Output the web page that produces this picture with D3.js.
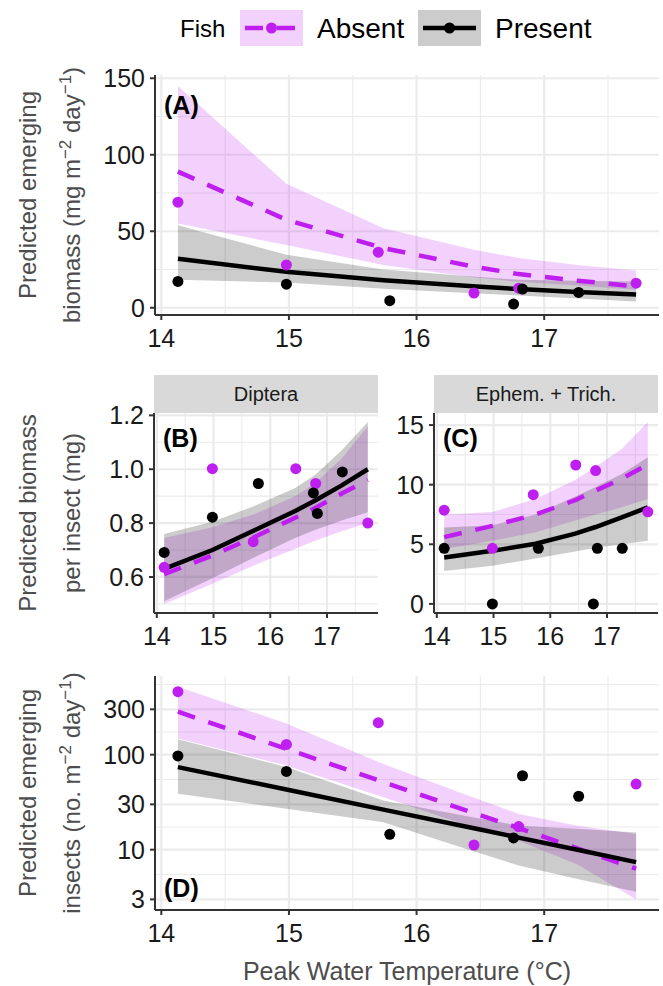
<!DOCTYPE html>
<html><head><meta charset="utf-8">
<script src="https://cdn.jsdelivr.net/npm/d3@7"></script>
<style>
body{margin:0;background:#fff}
svg{display:block}
text{font-family:"Liberation Sans",Arial,Helvetica,sans-serif}
</style>
</head><body>
<svg id="c" width="663" height="986"></svg>
<script>
// ---------------- DATA ----------------
const fishLevels = ["Absent", "Present"];
const legendTitle = "Fish";
const xTitle = "Peak Water Temperature (°C)";
const xTicks = [14, 15, 16, 17];

// observed site temperatures
const tempAbsent  = [14.13, 14.98, 15.70, 16.45, 16.80, 17.72];
const tempPresent = [14.13, 14.98, 15.79, 16.76, 16.83, 17.27];
// temperatures at which model predictions are shown
const predTemp = [14.13, 14.98, 15.74, 16.44, 16.80, 17.26, 17.72];

// (A) emerging biomass, mg m-2 day-1
const bioAbsent  = [69, 28, 36.3, 9.6, 12.8, 16.1];
const bioPresent = [17.2, 15.4, 4.6, 2.4, 12.2, 10];
const bioFitAbsent  = [89, 57.5, 39, 27, 22, 17.7, 14];
const bioLoAbsent   = [55, 41, 28, 20, 17, 14.5, 11.7];
const bioHiAbsent   = [145, 81, 52, 38, 32.5, 28, 24.4];
const bioFitPresent = [32, 23.5, 18, 14, 12.2, 10.3, 8.6];
const bioLoPresent  = [18.3, 16.5, 12.5, 9.5, 8, 6, 4.1];
const bioHiPresent  = [54, 34.6, 25, 20.5, 18.3, 17.7, 17.2];
const bioTicks = [0, 50, 100, 150];

// (B) Diptera biomass per insect, mg
const dipAbsent  = [0.636, 1.002, 0.731, 1.002, 0.947, 0.80];
const dipPresent = [0.691, 0.822, 0.947, 0.912, 0.836, 0.99];
const dipFitAbsent  = [0.61, 0.68, 0.75, 0.82, 0.857, 0.91, 0.96];
const dipLoAbsent   = [0.50, 0.575, 0.645, 0.705, 0.735, 0.77, 0.80];
const dipHiAbsent   = [0.745, 0.785, 0.835, 0.90, 0.95, 1.04, 1.16];
const dipFitPresent = [0.63, 0.70, 0.775, 0.845, 0.885, 0.94, 1.0];
const dipLoPresent  = [0.51, 0.595, 0.675, 0.745, 0.775, 0.81, 0.84];
const dipHiPresent  = [0.76, 0.805, 0.865, 0.93, 0.98, 1.07, 1.175];
const dipTicks = [0.6, 0.8, 1.0, 1.2];

// (C) Ephem. + Trich. biomass per insect, mg
const etAbsent  = [7.86, 4.66, 9.16, 11.65, 11.18, 7.72];
const etPresent = [4.66, 0, 4.66, 0, 4.66, 4.66];
const etFitAbsent  = [5.6, 6.55, 7.5, 8.7, 9.5, 10.5, 11.7];
const etLoAbsent   = [4.6, 5.3, 6.0, 7.0, 7.5, 8.1, 8.8];
const etHiAbsent   = [7.5, 7.7, 8.8, 10.4, 11.5, 13.0, 15.25];
const etFitPresent = [3.9, 4.45, 5.05, 5.9, 6.45, 7.25, 8.1];
const etLoPresent  = [2.75, 3.2, 3.8, 4.4, 4.7, 5.0, 5.3];
const etHiPresent  = [6.4, 6.6, 7.5, 9.0, 9.8, 10.9, 12.3];
const etTicks = [0, 5, 10, 15];

// (D) emerging insects, no. m-2 day-1 (log scale)
const insAbsent  = [460, 128, 217, 11.2, 17.5, 49];
const insPresent = [97, 66.7, 14.5, 13.3, 60, 36.5];
const insFitAbsent  = [283, 115, 51.5, 24.5, 16.9, 10.3, 6.3];
const insLoAbsent   = [148, 77, 35.7, 17.2, 12.4, 7.0, 3.0];
const insHiAbsent   = [520, 213, 80, 35.7, 23.8, 17.9, 14.6];
const insFitPresent = [74, 43, 26.4, 16.9, 13.4, 10, 7.4];
const insLoPresent  = [38.7, 27, 19.4, 9.7, 6.8, 4.9, 3.6];
const insHiPresent  = [145, 74, 33, 21.9, 17.9, 16.6, 15.2];
const insTicks = [3, 10, 30, 100, 300];

// ---------------- STYLE ----------------
const COL = {Absent: "#BE1EF0", Present: "#000000"};
const FILL = {Absent: "rgba(190,30,240,0.2)", Present: "rgba(0,0,0,0.2)"};
const GRID = "#EBEBEB";
const AXIS = "#333333";
const TICKTXT = "#1a1a1a";
const TITLETXT = "#4d4d4d";

const svg = d3.select("#c");

const allTemps = tempAbsent.concat(tempPresent, predTemp);
const tMin = d3.min(allTemps), tMax = d3.max(allTemps);
const tPad = (tMax - tMin) * 0.05;
const xDomain = [tMin - tPad, tMax + tPad];

function panel(cfg) {
  const g = svg.append("g");
  const x = d3.scaleLinear().domain(xDomain).range([cfg.left, cfg.right]);
  const vals = cfg.ptsA.concat(cfg.ptsP, cfg.loA, cfg.hiA, cfg.loP, cfg.hiP);
  let y;
  if (cfg.log) {
    const lmin = Math.log10(d3.min(vals)), lmax = Math.log10(d3.max(vals));
    const pad = (lmax - lmin) * 0.05;
    y = d3.scaleLog().domain([10 ** (lmin - pad), 10 ** (lmax + pad)]).range([cfg.bottom, cfg.top]);
  } else {
    const vmin = d3.min(vals), vmax = d3.max(vals);
    const pad = (vmax - vmin) * 0.05;
    y = d3.scaleLinear().domain([vmin - pad, vmax + pad]).range([cfg.bottom, cfg.top]);
  }
  const yd = y.domain();
  const inY = v => v >= Math.min(yd[0], yd[1]) && v <= Math.max(yd[0], yd[1]);

  const yt = cfg.ticks;
  let yMinor = [];
  const tr = cfg.log ? Math.log10 : (v => v);
  const inv = cfg.log ? (v => 10 ** v) : (v => v);
  const step = tr(yt[1]) - tr(yt[0]);
  const ext = [tr(yt[0]) - step].concat(yt.map(tr), [tr(yt[yt.length - 1]) + step]);
  for (let i = 0; i < ext.length - 1; i++) yMinor.push(inv((ext[i] + ext[i + 1]) / 2));
  yMinor = yMinor.filter(inY);
  const xMinor = [13.5, 14.5, 15.5, 16.5, 17.5].filter(v => v >= xDomain[0] && v <= xDomain[1]);

  g.selectAll(".ymin").data(yMinor).join("line")
    .attr("x1", cfg.left).attr("x2", cfg.right)
    .attr("y1", d => y(d)).attr("y2", d => y(d))
    .attr("stroke", GRID).attr("stroke-width", 1.1);
  g.selectAll(".xmin").data(xMinor).join("line")
    .attr("x1", d => x(d)).attr("x2", d => x(d))
    .attr("y1", cfg.top).attr("y2", cfg.bottom)
    .attr("stroke", GRID).attr("stroke-width", 1.1);
  g.selectAll(".ymaj").data(yt.filter(inY)).join("line")
    .attr("x1", cfg.left).attr("x2", cfg.right)
    .attr("y1", d => y(d)).attr("y2", d => y(d))
    .attr("stroke", GRID).attr("stroke-width", 2.2);
  g.selectAll(".xmaj").data(xTicks).join("line")
    .attr("x1", d => x(d)).attr("x2", d => x(d))
    .attr("y1", cfg.top).attr("y2", cfg.bottom)
    .attr("stroke", GRID).attr("stroke-width", 2.2);

  const series = {
    Absent: {fit: cfg.fitA, lo: cfg.loA, hi: cfg.hiA, pts: cfg.ptsA, t: tempAbsent},
    Present: {fit: cfg.fitP, lo: cfg.loP, hi: cfg.hiP, pts: cfg.ptsP, t: tempPresent}
  };
  const area = d3.area().x(d => x(d.t)).y0(d => y(d.lo)).y1(d => y(d.hi));
  const line = d3.line().x(d => x(d.t)).y(d => y(d.v));
  fishLevels.forEach(f => {
    const s = series[f];
    const rows = predTemp.map((t, i) => ({t, lo: s.lo[i], hi: s.hi[i]}));
    g.append("path").attr("d", area(rows)).attr("fill", FILL[f]);
  });
  fishLevels.forEach(f => {
    const s = series[f];
    const rows = predTemp.map((t, i) => ({t, v: s.fit[i]}));
    g.append("path").attr("d", line(rows)).attr("fill", "none")
      .attr("stroke", COL[f]).attr("stroke-width", 4.5)
      .attr("stroke-dasharray", f === "Absent" ? "18,14" : null);
  });
  fishLevels.forEach(f => {
    const s = series[f];
    g.selectAll(".pt" + f).data(s.pts.map((v, i) => ({t: s.t[i], v}))).join("circle")
      .attr("cx", d => x(d.t)).attr("cy", d => y(d.v)).attr("r", 5.5)
      .attr("fill", COL[f]);
  });

  g.append("line").attr("x1", cfg.left).attr("x2", cfg.right)
    .attr("y1", cfg.bottom).attr("y2", cfg.bottom).attr("stroke", AXIS).attr("stroke-width", 2);
  g.append("line").attr("x1", cfg.left).attr("x2", cfg.left)
    .attr("y1", cfg.top).attr("y2", cfg.bottom).attr("stroke", AXIS).attr("stroke-width", 2);
  g.selectAll(".xt").data(xTicks).join("line")
    .attr("x1", d => x(d)).attr("x2", d => x(d))
    .attr("y1", cfg.bottom).attr("y2", cfg.bottom + 5)
    .attr("stroke", AXIS).attr("stroke-width", 2);
  g.selectAll(".xl").data(xTicks).join("text")
    .attr("x", d => x(d)).attr("y", cfg.bottom + 32)
    .attr("text-anchor", "middle").attr("font-size", 25).attr("fill", TICKTXT)
    .text(d => d);
  g.selectAll(".yt").data(yt).join("line")
    .attr("x1", cfg.left - 5).attr("x2", cfg.left)
    .attr("y1", d => y(d)).attr("y2", d => y(d))
    .attr("stroke", AXIS).attr("stroke-width", 2);
  g.selectAll(".yl").data(yt).join("text")
    .attr("x", cfg.left - 10).attr("y", d => y(d) + 9)
    .attr("text-anchor", "end").attr("font-size", 25).attr("fill", TICKTXT)
    .text(cfg.fmt);

  g.append("text").attr("x", cfg.left + 9).attr("y", cfg.tagY)
    .attr("font-size", 25).attr("font-weight", "bold").attr("fill", "#000")
    .text(cfg.tag);

  if (cfg.strip) {
    g.append("rect").attr("x", cfg.left).attr("y", cfg.top - 38)
      .attr("width", cfg.right - cfg.left).attr("height", 38).attr("fill", "#D9D9D9");
    g.append("text").attr("x", (cfg.left + cfg.right) / 2).attr("y", cfg.top - 12)
      .attr("text-anchor", "middle").attr("font-size", 20).attr("fill", "#1a1a1a")
      .text(cfg.strip);
  }
  return {x, y};
}

panel({left: 155, right: 659, top: 75, bottom: 315, tag: "(A)", tagY: 114,
  ptsA: bioAbsent, ptsP: bioPresent, fitA: bioFitAbsent, loA: bioLoAbsent, hiA: bioHiAbsent,
  fitP: bioFitPresent, loP: bioLoPresent, hiP: bioHiPresent, ticks: bioTicks, fmt: d => d});
panel({left: 154, right: 378, top: 413, bottom: 613, tag: "(B)", tagY: 447, strip: "Diptera",
  ptsA: dipAbsent, ptsP: dipPresent, fitA: dipFitAbsent, loA: dipLoAbsent, hiA: dipHiAbsent,
  fitP: dipFitPresent, loP: dipLoPresent, hiP: dipHiPresent, ticks: dipTicks, fmt: d3.format(".1f")});
panel({left: 434, right: 658, top: 413, bottom: 613, tag: "(C)", tagY: 447, strip: "Ephem. + Trich.",
  ptsA: etAbsent, ptsP: etPresent, fitA: etFitAbsent, loA: etLoAbsent, hiA: etHiAbsent,
  fitP: etFitPresent, loP: etLoPresent, hiP: etHiPresent, ticks: etTicks, fmt: d => d});
panel({left: 155, right: 659, top: 676, bottom: 910, tag: "(D)", tagY: 897, log: true,
  ptsA: insAbsent, ptsP: insPresent, fitA: insFitAbsent, loA: insLoAbsent, hiA: insHiAbsent,
  fitP: insFitPresent, loP: insLoPresent, hiP: insHiPresent, ticks: insTicks, fmt: d => d});

svg.append("text").attr("x", 407).attr("y", 980).attr("text-anchor", "middle")
  .attr("font-size", 25).attr("fill", TITLETXT).text(xTitle);

function yTitle(cy, line1, line2parts) {
  const g = svg.append("g").attr("transform", `translate(0,${cy})`);
  g.append("text").attr("transform", "translate(36,0) rotate(-90)")
    .attr("text-anchor", "middle").attr("font-size", 24).attr("fill", TITLETXT).text(line1);
  const t = g.append("text").attr("transform", "translate(80,0) rotate(-90)")
    .attr("text-anchor", "middle").attr("font-size", 24).attr("fill", TITLETXT);
  line2parts.forEach(p => {
    const ts = t.append("tspan").text(p.s);
    if (p.sup) ts.attr("font-size", 17).attr("dy", -9);
    else if (p.after) ts.attr("dy", 9);
  });
}
yTitle(195, "Predicted emerging",
  [{s: "biomass (mg m"}, {s: "−2", sup: true}, {s: " day", after: true}, {s: "−1", sup: true}, {s: ")", after: true}]);
yTitle(513, "Predicted biomass", [{s: "per insect (mg)"}]);
yTitle(793, "Predicted emerging",
  [{s: "insects (no. m"}, {s: "−2", sup: true}, {s: " day", after: true}, {s: "−1", sup: true}, {s: ")", after: true}]);

const lg = svg.append("g");
lg.append("text").attr("x", 180).attr("y", 37).attr("font-size", 24).attr("fill", "#000").text(legendTitle);
const keyX = {Absent: 240, Present: 418};
const labX = {Absent: 317, Present: 495};
fishLevels.forEach(f => {
  const kx = keyX[f];
  lg.append("rect").attr("x", kx).attr("y", 10).attr("width", 63).attr("height", 36).attr("fill", FILL[f]);
  lg.append("line").attr("x1", kx + 5).attr("x2", kx + 58).attr("y1", 28).attr("y2", 28)
    .attr("stroke", COL[f]).attr("stroke-width", 4.5)
    .attr("stroke-dasharray", f === "Absent" ? "18,14" : null);
  lg.append("circle").attr("cx", kx + 31.5).attr("cy", 28).attr("r", 5.5).attr("fill", COL[f]);
  lg.append("text").attr("x", labX[f]).attr("y", 38).attr("font-size", 28).attr("fill", "#000").text(f);
});
</script>
</body></html>
